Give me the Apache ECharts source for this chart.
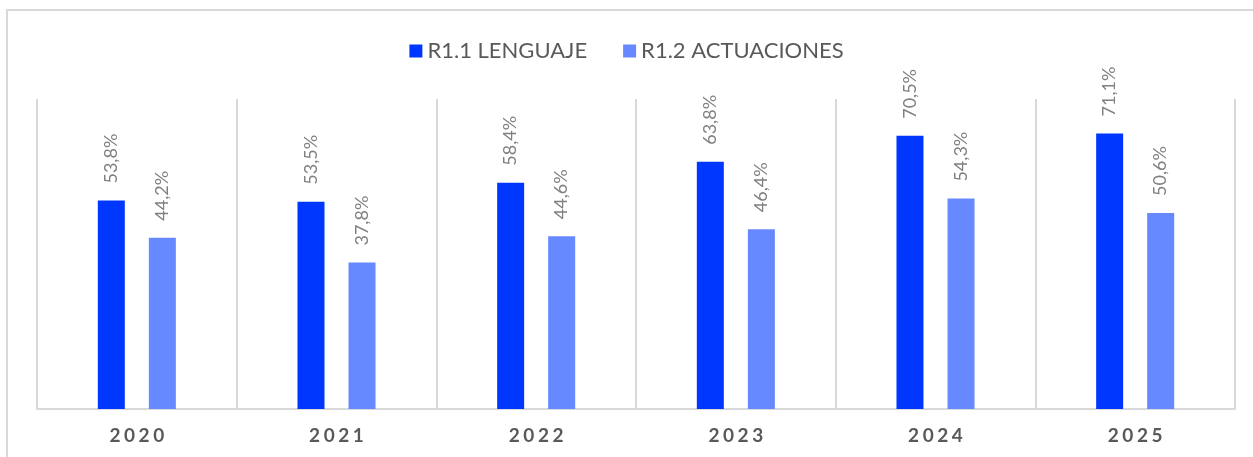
<!DOCTYPE html>
<html>
<head>
<meta charset="utf-8">
<script src="https://cdn.jsdelivr.net/npm/echarts@6/dist/echarts.min.js"></script>
<style>
  html, body { margin: 0; padding: 0; background: #fff; }
  #chart { width: 1253px; height: 457px; }
</style>
</head>
<body>
<div id="chart"></div>
<script>
const years = ["2020", "2021", "2022", "2023", "2024", "2025"];
const seriesNames = ["R1.1 LENGUAJE", "R1.2 ACTUACIONES"];
const lenguaje = [53.8, 53.5, 58.4, 63.8, 70.5, 71.1];
const actuaciones = [44.2, 37.8, 44.6, 46.4, 54.3, 50.6];

const font = "Lato, 'Open Sans', sans-serif";
const pct = (p) => p.value.toFixed(1).replace(".", ",") + "%";

const barLabel = {
  show: true,
  position: "top",
  rotate: 90,
  align: "left",
  verticalAlign: "middle",
  distance: 17,
  color: "#808080",
  fontFamily: font,
  fontSize: 18,
  formatter: pct,
};

const option = {
  animation: false,
  graphic: [
    {
      type: "rect",
      shape: { x: 7, y: 10, width: 1260, height: 460 },
      style: { fill: "none", stroke: "#d9d9d9", lineWidth: 2 },
      silent: true,
    },
  ],
  legend: {
    top: 35,
    left: "center",
    itemWidth: 13,
    itemHeight: 13,
    itemGap: 36,
    icon: "rect",
    textStyle: { color: "#595959", fontFamily: font, fontSize: 22 },
    data: seriesNames,
  },
  grid: { left: 37, right: 18, top: 99, bottom: 48 },
  xAxis: {
    type: "category",
    data: years,
    axisLine: { lineStyle: { color: "#d9d9d9", width: 2 } },
    axisTick: { show: false },
    splitLine: { show: true, lineStyle: { color: "#d9d9d9", width: 2 } },
    axisLabel: {
      margin: 17,
      color: "#595959",
      fontFamily: font,
      fontWeight: "bold",
      fontSize: 19,
      formatter: (v) => v.split("").join("\u2009\u200a"),
    },
  },
  yAxis: {
    type: "value",
    min: 0,
    max: 80,
    show: false,
    splitLine: { show: false },
  },
  series: [
    {
      name: seriesNames[0],
      type: "bar",
      data: lenguaje,
      barWidth: 27,
      barGap: "89%",
      itemStyle: { color: "#0037ff" },
      label: barLabel,
    },
    {
      name: seriesNames[1],
      type: "bar",
      data: actuaciones,
      barWidth: 27,
      itemStyle: { color: "#6689ff" },
      label: barLabel,
    },
  ],
};

const myChart = echarts.init(document.getElementById("chart"));
myChart.setOption(option);
</script>
</body>
</html>
